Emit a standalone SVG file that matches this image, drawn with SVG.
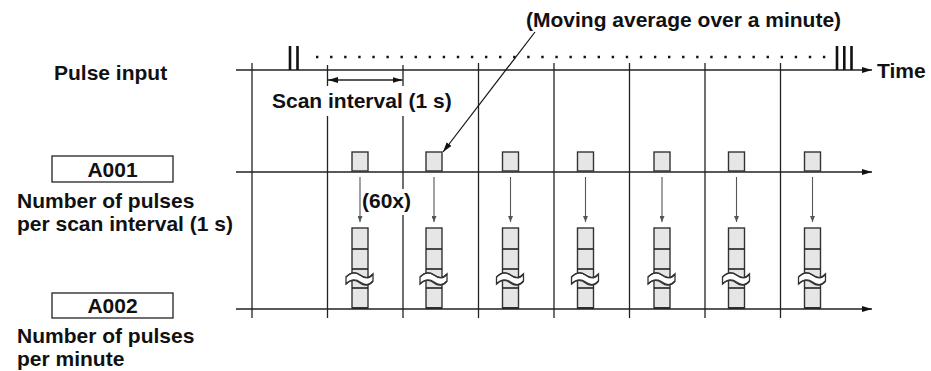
<svg xmlns="http://www.w3.org/2000/svg" width="931" height="371" viewBox="0 0 931 371">
<defs>
<style>
text{font-family:"Liberation Sans",Arial,sans-serif;font-weight:bold;font-size:21px;fill:#111}
.ax{stroke:#222;stroke-width:1.4;fill:none}
.vl{stroke:#222;stroke-width:1.3;fill:none}
.pl{stroke:#111;stroke-width:2.6}
.sq{fill:#e6e6e6;stroke:#333;stroke-width:1.4}
.dv{stroke:#222;stroke-width:1.6}
.da{stroke:#555;stroke-width:1.1;fill:none}
.lb{fill:#fff;stroke:#222;stroke-width:1.3}
.wv{fill:#fff;stroke:#333;stroke-width:1.3}
</style>
<marker id="ah" viewBox="0 0 10 6" refX="10" refY="3" markerWidth="10" markerHeight="6" markerUnits="userSpaceOnUse" orient="auto-start-reverse"><path d="M0,0L10,3L0,6z" fill="#111"/></marker>
<marker id="sa" viewBox="0 0 6 5" refX="6" refY="2.5" markerWidth="6" markerHeight="5" markerUnits="userSpaceOnUse" orient="auto"><path d="M0,0L6,2.5L0,5z" fill="#555"/></marker>
<g id="col">
<rect class="sq" x="-8" y="228" width="16" height="80"/>
<line class="dv" x1="-8" y1="249" x2="8" y2="249"/>
<line class="dv" x1="-8" y1="269" x2="8" y2="269"/>
<line class="dv" x1="-8" y1="288" x2="8" y2="288"/>
<line class="dv" x1="-8" y1="308" x2="8" y2="308"/>
<path class="wv" d="M-14,277 C-9,272 -4,272 0,275 S9,279 13,274 L13,281 C9,286 4,286 0,283 S-9,279 -14,284 Z" stroke="none"/>
<path fill="none" stroke="#333" stroke-width="1.3" d="M-14,277 C-9,272 -4,272 0,275 S9,279 13,274 M-14,284 C-9,279 -4,279 0,282 S9,286 13,281"/>
<rect class="sq" x="-8" y="152" width="16" height="19"/>
<line class="da" x1="0" y1="177" x2="0" y2="222" marker-end="url(#sa)"/>
</g>
</defs>

<g id="connectors">
<line class="ax" x1="236" y1="70" x2="872" y2="70" marker-end="url(#ah)"/>
<line class="ax" x1="236" y1="172" x2="872" y2="172" marker-end="url(#ah)"/>
<line class="ax" x1="236" y1="309" x2="872" y2="309" marker-end="url(#ah)"/>
<line class="vl" x1="252" y1="63" x2="252" y2="318"/>
<path class="vl" d="M327.5,65V86M327.5,116V318"/>
<path class="vl" d="M403,65V86M403,116V189M403,215V318"/>
<line class="vl" x1="478.5" y1="63" x2="478.5" y2="318"/>
<line class="vl" x1="554" y1="63" x2="554" y2="318"/>
<line class="vl" x1="629.5" y1="63" x2="629.5" y2="318"/>
<line class="vl" x1="705" y1="63" x2="705" y2="318"/>
<line class="vl" x1="780.5" y1="63" x2="780.5" y2="318"/>
<line class="ax" x1="328" y1="80" x2="402.5" y2="80" marker-start="url(#ah)" marker-end="url(#ah)"/>
<line x1="316" y1="57" x2="826" y2="57" stroke="#111" stroke-width="2.4" stroke-dasharray="2.4 11.68"/>
<line class="pl" x1="290" y1="46" x2="290" y2="70"/>
<line class="pl" x1="297.5" y1="46" x2="297.5" y2="70"/>
<line class="pl" x1="837" y1="46" x2="837" y2="70"/>
<line class="pl" x1="844.3" y1="46" x2="844.3" y2="70"/>
<line class="pl" x1="851.5" y1="46" x2="851.5" y2="70"/>
<line x1="535" y1="32" x2="443" y2="152" stroke="#111" stroke-width="1.2" marker-end="url(#ah)"/>
</g>

<g id="pulse-input"><text x="54" y="80">Pulse input</text></g>
<g id="time"><text x="877" y="78">Time</text></g>
<g id="moving-average"><text x="526" y="27">(Moving average over a minute)</text></g>
<g id="scan-interval"><text x="272" y="108">Scan interval (1 s)</text></g>
<g id="times60"><text x="362" y="208">(60x)</text></g>

<g id="a001">
<rect class="lb" x="52" y="156" width="121" height="26"/>
<text x="112.5" y="177" text-anchor="middle">A001</text>
<text x="17" y="208">Number of pulses</text>
<text x="17" y="231">per scan interval (1 s)</text>
</g>
<g id="a002">
<rect class="lb" x="52" y="293" width="121" height="25"/>
<text x="112.5" y="313" text-anchor="middle">A002</text>
<text x="17" y="343">Number of pulses</text>
<text x="17" y="366">per minute</text>
</g>

<g id="scan-1"><use href="#col" x="360"/></g>
<g id="scan-2"><use href="#col" x="434"/></g>
<g id="scan-3"><use href="#col" x="510.5"/></g>
<g id="scan-4"><use href="#col" x="585.5"/></g>
<g id="scan-5"><use href="#col" x="662"/></g>
<g id="scan-6"><use href="#col" x="736.5"/></g>
<g id="scan-7"><use href="#col" x="812.5"/></g>
</svg>
